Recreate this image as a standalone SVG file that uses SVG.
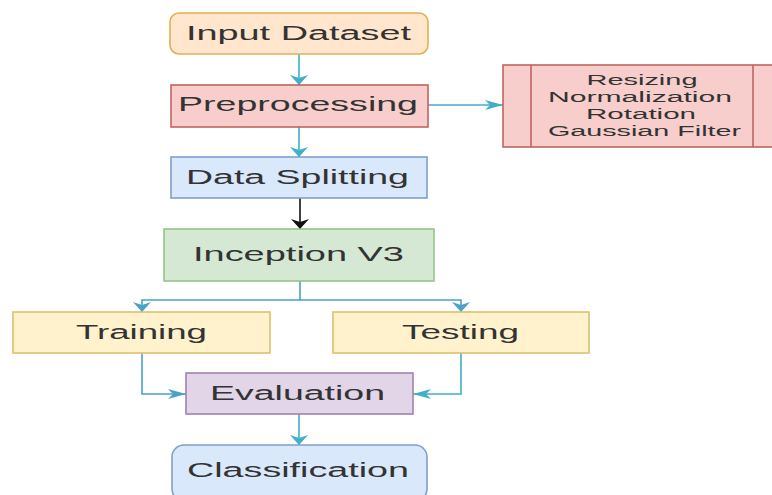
<svg xmlns="http://www.w3.org/2000/svg" width="772" height="495" viewBox="0 0 772 495">
  <defs>
    <style>
      .box { stroke-width: 1.6; }
      .lbl { font-family: "Liberation Sans", Arial, sans-serif; font-size: 20px; fill: #333333; text-anchor: middle; }
      .sub { font-family: "Liberation Sans", Arial, sans-serif; font-size: 15.5px; fill: #333333; text-anchor: middle; }
      .link { fill: none; stroke: #3fb0c6; stroke-width: 1.6; }
      .split { stroke: #4aa2c8; }
      .dark { stroke: #111111; }
      .orange { fill: #ffe6cc; stroke: #e0b050; }
      .red { fill: #f8cecc; stroke: #c06460; }
      .blue { fill: #dae8fc; stroke: #7f9fcb; }
      .green { fill: #d5e8d4; stroke: #97c48a; }
      .yellow { fill: #fff2cc; stroke: #dcc06a; }
      .purple { fill: #e1d5e7; stroke: #a083b0; }
    </style>
    <marker id="headDown" markerUnits="userSpaceOnUse" markerWidth="10" markerHeight="18" refX="10" refY="9" orient="auto">
      <path d="M0,0 L10,9 L0,18 L3,9 Z" fill="#3fb0c6"/>
    </marker>
    <marker id="headDownSplit" markerUnits="userSpaceOnUse" markerWidth="10" markerHeight="18" refX="10" refY="9" orient="auto">
      <path d="M0,0 L10,9 L0,18 L3,9 Z" fill="#4aa2c8"/>
    </marker>
    <marker id="headDownDark" markerUnits="userSpaceOnUse" markerWidth="10" markerHeight="18" refX="10" refY="9" orient="auto">
      <path d="M0,0 L10,9 L0,18 L3,9 Z" fill="#111111"/>
    </marker>
    <marker id="headSide" markerUnits="userSpaceOnUse" markerWidth="18" markerHeight="10" refX="18" refY="5" orient="auto">
      <path d="M0,0 L18,5 L0,10 L5,5 Z" fill="#3fb0c6"/>
    </marker>
    <marker id="headSideSplit" markerUnits="userSpaceOnUse" markerWidth="18" markerHeight="10" refX="18" refY="5" orient="auto">
      <path d="M0,0 L18,5 L0,10 L5,5 Z" fill="#4aa2c8"/>
    </marker>
  </defs>

  <rect width="772" height="495" fill="#ffffff"/>

  <!-- connectors -->
  <g id="connectors">
    <line class="link" x1="299" y1="54" x2="299" y2="85" marker-end="url(#headDown)"/>
    <line class="link" x1="428" y1="105" x2="503" y2="105" marker-end="url(#headSide)"/>
    <line class="link" x1="299" y1="127" x2="299" y2="157" marker-end="url(#headDown)"/>
    <line class="link dark" x1="300" y1="198" x2="300" y2="229" marker-end="url(#headDownDark)"/>
    <polyline class="link split" points="300,281 300,300 142,300 142,312" marker-end="url(#headDownSplit)"/>
    <polyline class="link split" points="300,300 461,300 461,312" marker-end="url(#headDownSplit)"/>
    <polyline class="link split" points="142,353 142,394 186,394" marker-end="url(#headSideSplit)"/>
    <polyline class="link" points="461,353 461,394 413,394" marker-end="url(#headSide)"/>
    <line class="link" x1="299" y1="414" x2="299" y2="445" marker-end="url(#headDown)"/>
  </g>

  <g id="input-dataset">
    <rect class="box orange" x="170" y="13" width="258" height="41" rx="9"/>
    <text class="lbl" x="298.5" y="40" textLength="225" lengthAdjust="spacingAndGlyphs">Input Dataset</text>
  </g>

  <g id="preprocessing">
    <rect class="box red" x="171" y="85" width="257" height="42"/>
    <text class="lbl" x="298" y="111" textLength="240" lengthAdjust="spacingAndGlyphs">Preprocessing</text>
  </g>

  <g id="preprocessing-steps">
    <rect class="box red" x="503" y="65" width="285" height="82"/>
    <line class="box" x1="531" y1="65" x2="531" y2="147" stroke="#c06460"/>
    <line class="box" x1="753" y1="65" x2="753" y2="147" stroke="#c06460"/>
    <text class="sub" x="642" y="85" textLength="111" lengthAdjust="spacingAndGlyphs">Resizing</text>
    <text class="sub" x="640" y="102" textLength="184" lengthAdjust="spacingAndGlyphs">Normalization</text>
    <text class="sub" x="641" y="119" textLength="110" lengthAdjust="spacingAndGlyphs">Rotation</text>
    <text class="sub" x="644.5" y="136" textLength="193" lengthAdjust="spacingAndGlyphs">Gaussian Filter</text>
  </g>

  <g id="data-splitting">
    <rect class="box blue" x="171" y="157" width="256" height="41"/>
    <text class="lbl" x="297.5" y="184" textLength="223" lengthAdjust="spacingAndGlyphs">Data Splitting</text>
  </g>

  <g id="inception-v3">
    <rect class="box green" x="164" y="229" width="270" height="52"/>
    <text class="lbl" x="298.5" y="261" textLength="211" lengthAdjust="spacingAndGlyphs">Inception V3</text>
  </g>

  <g id="training">
    <rect class="box yellow" x="13" y="312" width="257" height="41"/>
    <text class="lbl" x="141.5" y="339" textLength="131" lengthAdjust="spacingAndGlyphs">Training</text>
  </g>

  <g id="testing">
    <rect class="box yellow" x="333" y="312" width="256" height="41"/>
    <text class="lbl" x="460.5" y="339" textLength="117" lengthAdjust="spacingAndGlyphs">Testing</text>
  </g>

  <g id="evaluation">
    <rect class="box purple" x="186" y="373" width="227" height="41"/>
    <text class="lbl" x="297.5" y="400" textLength="175" lengthAdjust="spacingAndGlyphs">Evaluation</text>
  </g>

  <g id="classification">
    <rect class="box blue" x="172" y="445" width="255" height="56" rx="12"/>
    <text class="lbl" x="298" y="477" textLength="222" lengthAdjust="spacingAndGlyphs">Classification</text>
  </g>
</svg>
